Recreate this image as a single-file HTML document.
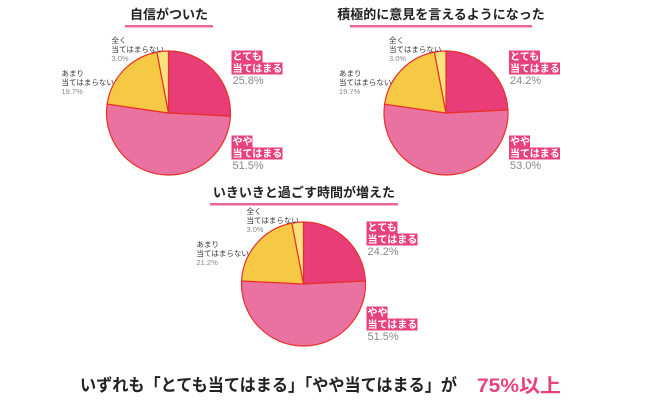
<!DOCTYPE html>
<html><head><meta charset="utf-8"><style>
body{margin:0;background:#fff;}
svg{display:block;font-family:"Liberation Sans","Noto Sans CJK JP",sans-serif;}
</style></head><body>
<svg id="c" width="650" height="401" viewBox="0 0 650 401"></svg>
<script>
const titles=["自信がついた","積極的に意見を言えるようになった","いきいきと過ごす時間が増えた"];
const categories=["とても当てはまる","やや当てはまる","あまり当てはまらない","全く当てはまらない"];
const chart1Values=[25.8,51.5,19.7,3.0];
const chart2Values=[24.2,53.0,19.7,3.0];
const chart3Values=[24.2,51.5,21.2,3.0];
const allValues=[chart1Values,chart2Values,chart3Values];
const colors=["#e83d77","#ea72a0","#f6c944","#fbe27f"];
const layout=[{cx:168.5,cy:113,r:62,ty:19,ul:[125,213]},{cx:446,cy:113,r:62,ty:19,ul:[350,532]},{cx:303.5,cy:284,r:62,ty:197,ul:[210,398]}];
const svg=document.getElementById('c');
const NS="http://www.w3.org/2000/svg";
function mk(t,a,p){const e=document.createElementNS(NS,t);for(const k in a)e.setAttribute(k,a[k]);(p||svg).appendChild(e);return e;}
function pt(cx,cy,r,f){const a=f*2*Math.PI-Math.PI/2;return [cx+r*Math.cos(a),cy+r*Math.sin(a)];}
allValues.forEach((vals,ci)=>{
  const L=layout[ci];
  const g=mk('g',{});
  
  
  const t=mk('text',{x:(L.ul[0]+L.ul[1])/2,y:L.ty,'text-anchor':'middle','font-size':13,'font-weight':'bold',fill:'#222'},g);
  t.textContent=titles[ci];
  
  
  const u=mk('rect',{x:L.ul[0],y:L.ty+6,width:L.ul[1]-L.ul[0],height:2.5,fill:'#e8679a'},g);
  
  
  const tot=vals.reduce((a,b)=>a+b,0);
  let acc=0;
  vals.forEach((v,i)=>{
    const f0=acc/tot,f1=(acc+v)/tot;acc+=v;
    const [x0,y0]=pt(L.cx,L.cy,L.r,f0),[x1,y1]=pt(L.cx,L.cy,L.r,f1);
    const s=mk('path',{d:`M${L.cx},${L.cy}L${x0},${y0}A${L.r},${L.r} 0 ${f1-f0>0.5?1:0} 1 ${x1},${y1}Z`,fill:colors[i],stroke:'#e8302a','stroke-width':1.2},g);
    
    
  });
  const lx=[L.cx+64,L.cx+64,L.cx-107,L.cx-57];
  const ly=[L.cy-53,L.cy+32,L.cy-37,L.cy-70];
  const lines=[["とても","当てはまる"],["やや","当てはまる"],["あまり","当てはまらない"],["全く","当てはまらない"]];
  vals.forEach((v,i)=>{
    const lg=mk('g',{},g);
    
    
    const big=i<2;
    const fs=big?10:7.5;const lh=big?12:9;
    lines[i].forEach((s,k)=>{
      if(big){const w=s.length*fs+1;mk('rect',{x:lx[i]-1,y:ly[i]+k*lh-fs+0.5,width:w,height:lh,fill:'#e8427c'},lg);}
      const tt=mk('text',{x:lx[i],y:ly[i]+k*lh,'font-size':fs,'font-weight':big?'bold':'normal',fill:big?'#fff':'#333'},lg);
      tt.textContent=s;
    });
    const pv=mk('text',{x:lx[i],y:ly[i]+2*lh,'font-size':fs+(big?1:0),fill:'#888'},lg);
    pv.textContent=v.toFixed(1)+'%';
  });
});
const b=mk('text',{x:80,y:391,'font-size':17,'font-weight':'bold',fill:'#222',textLength:377,lengthAdjust:'spacingAndGlyphs'});


b.textContent="いずれも「とても当てはまる」「やや当てはまる」が";
const p=mk('text',{x:477,y:392,'font-size':19,'font-weight':'bold',fill:'#e8427c',textLength:84,lengthAdjust:'spacingAndGlyphs'});


p.textContent="75%以上";
</script>
</body></html>
